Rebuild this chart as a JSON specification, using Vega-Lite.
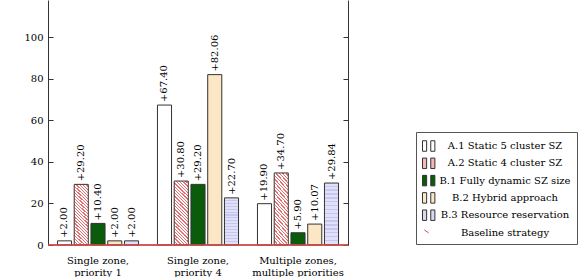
{
  "$schema": "https://vega.github.io/schema/vega-lite/v6.json",
  "width": 300,
  "height": 245,
  "padding": {"left": 0, "top": 0, "right": 5, "bottom": 0},
  "background": "white",
  "config": {
    "view": {"stroke": null},
    "font": "DejaVu Serif",
    "axis": {"labelFont": "DejaVu Serif", "labelFontSize": 10, "labelColor": "#000", "domainColor": "#333", "tickColor": "#333", "grid": false, "title": null},
    "legend": {
      "orient": "none", "legendX": 368, "legendY": 132, "title": null,
      "strokeColor": "#555", "padding": 6, "rowPadding": 1.3,
      "labelFont": "DejaVu Serif", "labelFontSize": 10, "labelColor": "#000",
      "labelAlign": "center", "labelOffset": 67, "symbolSize": 225, "symbolStrokeWidth": 1,
      "fillColor": "white"
    }
  },
  "data": {"values": [
    {"group": "Single zone, priority 1", "series": "A.1 Static 5 cluster SZ", "value": 2.00},
    {"group": "Single zone, priority 1", "series": "A.2 Static 4 cluster SZ", "value": 29.20},
    {"group": "Single zone, priority 1", "series": "B.1 Fully dynamic SZ size", "value": 10.40},
    {"group": "Single zone, priority 1", "series": "B.2 Hybrid approach", "value": 2.00},
    {"group": "Single zone, priority 1", "series": "B.3 Resource reservation", "value": 2.00},
    {"group": "Single zone, priority 4", "series": "A.1 Static 5 cluster SZ", "value": 67.40},
    {"group": "Single zone, priority 4", "series": "A.2 Static 4 cluster SZ", "value": 30.80},
    {"group": "Single zone, priority 4", "series": "B.1 Fully dynamic SZ size", "value": 29.20},
    {"group": "Single zone, priority 4", "series": "B.2 Hybrid approach", "value": 82.06},
    {"group": "Single zone, priority 4", "series": "B.3 Resource reservation", "value": 22.70},
    {"group": "Multiple zones, multiple priorities", "series": "A.1 Static 5 cluster SZ", "value": 19.90},
    {"group": "Multiple zones, multiple priorities", "series": "A.2 Static 4 cluster SZ", "value": 34.70},
    {"group": "Multiple zones, multiple priorities", "series": "B.1 Fully dynamic SZ size", "value": 5.90},
    {"group": "Multiple zones, multiple priorities", "series": "B.2 Hybrid approach", "value": 10.07},
    {"group": "Multiple zones, multiple priorities", "series": "B.3 Resource reservation", "value": 29.84},
    {"group": "Single zone, priority 1", "series": "Baseline strategy", "value": 0},
    {"group": "Single zone, priority 4", "series": "Baseline strategy", "value": 0},
    {"group": "Multiple zones, multiple priorities", "series": "Baseline strategy", "value": 0}
  ]},
  "layer": [
    {
      "transform": [{"filter": "datum.series !== 'Baseline strategy'"}],
      "layer": [
        {
          "mark": {"type": "bar", "stroke": "#333", "strokeWidth": 1},
          "encoding": {
            "x": {"field": "group", "type": "nominal", "sort": null,
                  "scale": {"paddingInner": 0, "paddingOuter": 0},
                  "axis": {"labelAngle": 0, "ticks": false, "domain": false, "labelPadding": 10, "labelBaseline": "top", "labelLineHeight": 12,
                           "labelExpr": "[slice(datum.label, 0, indexof(datum.label, ',') + 1), slice(datum.label, indexof(datum.label, ',') + 2)]"}},
            "xOffset": {"field": "series", "type": "nominal", "sort": null,
                        "scale": {"domain": ["A.1 Static 5 cluster SZ", "A.2 Static 4 cluster SZ", "B.1 Fully dynamic SZ size", "B.2 Hybrid approach", "B.3 Resource reservation"], "paddingInner": 0.16, "paddingOuter": 0.565}},
            "y": {"field": "value", "type": "quantitative",
                  "scale": {"domain": [0, 118], "nice": false},
                  "axis": {"orient": "left", "values": [0, 20, 40, 60, 80, 100], "tickSize": -5, "labelPadding": 10, "minExtent": 48, "maxExtent": 48}},
            "fill": {"field": "series", "type": "nominal",
                     "scale": {"domain": ["A.1 Static 5 cluster SZ", "A.2 Static 4 cluster SZ", "B.1 Fully dynamic SZ size", "B.2 Hybrid approach", "B.3 Resource reservation", "Baseline strategy"],
                               "range": ["#ffffff", "#f4b8b8", "#0a5c0a", "#fbe6c6", "#d9d9f6", "transparent"]},
                     "condition": [
                       {"test": "datum.series === 'A.2 Static 4 cluster SZ'",
                        "value": {"gradient": "linear", "x1": 0, "y1": 1, "x2": 0.25, "y2": -0.162, "stops": [
                          {"offset": 0, "color": "#ec6e6e"}, {"offset": 0.0167, "color": "#ec6e6e"}, {"offset": 0.0167, "color": "#ffffff"}, {"offset": 0.04167, "color": "#ffffff"},
                          {"offset": 0.04167, "color": "#ec6e6e"}, {"offset": 0.0584, "color": "#ec6e6e"}, {"offset": 0.0584, "color": "#ffffff"}, {"offset": 0.08333, "color": "#ffffff"},
                          {"offset": 0.08333, "color": "#ec6e6e"}, {"offset": 0.1, "color": "#ec6e6e"}, {"offset": 0.1, "color": "#ffffff"}, {"offset": 0.125, "color": "#ffffff"},
                          {"offset": 0.125, "color": "#ec6e6e"}, {"offset": 0.1417, "color": "#ec6e6e"}, {"offset": 0.1417, "color": "#ffffff"}, {"offset": 0.16667, "color": "#ffffff"},
                          {"offset": 0.16667, "color": "#ec6e6e"}, {"offset": 0.1834, "color": "#ec6e6e"}, {"offset": 0.1834, "color": "#ffffff"}, {"offset": 0.20833, "color": "#ffffff"},
                          {"offset": 0.20833, "color": "#ec6e6e"}, {"offset": 0.225, "color": "#ec6e6e"}, {"offset": 0.225, "color": "#ffffff"}, {"offset": 0.25, "color": "#ffffff"},
                          {"offset": 0.25, "color": "#ec6e6e"}, {"offset": 0.2667, "color": "#ec6e6e"}, {"offset": 0.2667, "color": "#ffffff"}, {"offset": 0.29167, "color": "#ffffff"},
                          {"offset": 0.29167, "color": "#ec6e6e"}, {"offset": 0.3084, "color": "#ec6e6e"}, {"offset": 0.3084, "color": "#ffffff"}, {"offset": 0.33333, "color": "#ffffff"},
                          {"offset": 0.33333, "color": "#ec6e6e"}, {"offset": 0.35, "color": "#ec6e6e"}, {"offset": 0.35, "color": "#ffffff"}, {"offset": 0.375, "color": "#ffffff"},
                          {"offset": 0.375, "color": "#ec6e6e"}, {"offset": 0.3917, "color": "#ec6e6e"}, {"offset": 0.3917, "color": "#ffffff"}, {"offset": 0.41667, "color": "#ffffff"},
                          {"offset": 0.41667, "color": "#ec6e6e"}, {"offset": 0.4334, "color": "#ec6e6e"}, {"offset": 0.4334, "color": "#ffffff"}, {"offset": 0.45833, "color": "#ffffff"},
                          {"offset": 0.45833, "color": "#ec6e6e"}, {"offset": 0.475, "color": "#ec6e6e"}, {"offset": 0.475, "color": "#ffffff"}, {"offset": 0.5, "color": "#ffffff"},
                          {"offset": 0.5, "color": "#ec6e6e"}, {"offset": 0.5167, "color": "#ec6e6e"}, {"offset": 0.5167, "color": "#ffffff"}, {"offset": 0.54167, "color": "#ffffff"},
                          {"offset": 0.54167, "color": "#ec6e6e"}, {"offset": 0.5584, "color": "#ec6e6e"}, {"offset": 0.5584, "color": "#ffffff"}, {"offset": 0.58333, "color": "#ffffff"},
                          {"offset": 0.58333, "color": "#ec6e6e"}, {"offset": 0.6, "color": "#ec6e6e"}, {"offset": 0.6, "color": "#ffffff"}, {"offset": 0.625, "color": "#ffffff"},
                          {"offset": 0.625, "color": "#ec6e6e"}, {"offset": 0.6417, "color": "#ec6e6e"}, {"offset": 0.6417, "color": "#ffffff"}, {"offset": 0.66667, "color": "#ffffff"},
                          {"offset": 0.66667, "color": "#ec6e6e"}, {"offset": 0.6834, "color": "#ec6e6e"}, {"offset": 0.6834, "color": "#ffffff"}, {"offset": 0.70833, "color": "#ffffff"},
                          {"offset": 0.70833, "color": "#ec6e6e"}, {"offset": 0.725, "color": "#ec6e6e"}, {"offset": 0.725, "color": "#ffffff"}, {"offset": 0.75, "color": "#ffffff"},
                          {"offset": 0.75, "color": "#ec6e6e"}, {"offset": 0.7667, "color": "#ec6e6e"}, {"offset": 0.7667, "color": "#ffffff"}, {"offset": 0.79167, "color": "#ffffff"},
                          {"offset": 0.79167, "color": "#ec6e6e"}, {"offset": 0.8084, "color": "#ec6e6e"}, {"offset": 0.8084, "color": "#ffffff"}, {"offset": 0.83333, "color": "#ffffff"},
                          {"offset": 0.83333, "color": "#ec6e6e"}, {"offset": 0.85, "color": "#ec6e6e"}, {"offset": 0.85, "color": "#ffffff"}, {"offset": 0.875, "color": "#ffffff"},
                          {"offset": 0.875, "color": "#ec6e6e"}, {"offset": 0.8917, "color": "#ec6e6e"}, {"offset": 0.8917, "color": "#ffffff"}, {"offset": 0.91667, "color": "#ffffff"},
                          {"offset": 0.91667, "color": "#ec6e6e"}, {"offset": 0.9334, "color": "#ec6e6e"}, {"offset": 0.9334, "color": "#ffffff"}, {"offset": 0.95833, "color": "#ffffff"},
                          {"offset": 0.95833, "color": "#ec6e6e"}, {"offset": 0.975, "color": "#ec6e6e"}, {"offset": 0.975, "color": "#ffffff"}, {"offset": 1, "color": "#ffffff"}
                        ]}},
                       {"test": "datum.series === 'B.3 Resource reservation'",
                        "value": {"gradient": "linear", "x1": 0, "y1": 0, "x2": 0, "y2": 1, "stops": [
                          {"offset": 0, "color": "#e0e0f9"}, {"offset": 0.04, "color": "#e0e0f9"}, {"offset": 0.04, "color": "#c6c6f2"}, {"offset": 0.0625, "color": "#c6c6f2"},
                          {"offset": 0.0625, "color": "#e0e0f9"}, {"offset": 0.1025, "color": "#e0e0f9"}, {"offset": 0.1025, "color": "#c6c6f2"}, {"offset": 0.125, "color": "#c6c6f2"},
                          {"offset": 0.125, "color": "#e0e0f9"}, {"offset": 0.165, "color": "#e0e0f9"}, {"offset": 0.165, "color": "#c6c6f2"}, {"offset": 0.1875, "color": "#c6c6f2"},
                          {"offset": 0.1875, "color": "#e0e0f9"}, {"offset": 0.2275, "color": "#e0e0f9"}, {"offset": 0.2275, "color": "#c6c6f2"}, {"offset": 0.25, "color": "#c6c6f2"},
                          {"offset": 0.25, "color": "#e0e0f9"}, {"offset": 0.29, "color": "#e0e0f9"}, {"offset": 0.29, "color": "#c6c6f2"}, {"offset": 0.3125, "color": "#c6c6f2"},
                          {"offset": 0.3125, "color": "#e0e0f9"}, {"offset": 0.3525, "color": "#e0e0f9"}, {"offset": 0.3525, "color": "#c6c6f2"}, {"offset": 0.375, "color": "#c6c6f2"},
                          {"offset": 0.375, "color": "#e0e0f9"}, {"offset": 0.415, "color": "#e0e0f9"}, {"offset": 0.415, "color": "#c6c6f2"}, {"offset": 0.4375, "color": "#c6c6f2"},
                          {"offset": 0.4375, "color": "#e0e0f9"}, {"offset": 0.4775, "color": "#e0e0f9"}, {"offset": 0.4775, "color": "#c6c6f2"}, {"offset": 0.5, "color": "#c6c6f2"},
                          {"offset": 0.5, "color": "#e0e0f9"}, {"offset": 0.54, "color": "#e0e0f9"}, {"offset": 0.54, "color": "#c6c6f2"}, {"offset": 0.5625, "color": "#c6c6f2"},
                          {"offset": 0.5625, "color": "#e0e0f9"}, {"offset": 0.6025, "color": "#e0e0f9"}, {"offset": 0.6025, "color": "#c6c6f2"}, {"offset": 0.625, "color": "#c6c6f2"},
                          {"offset": 0.625, "color": "#e0e0f9"}, {"offset": 0.665, "color": "#e0e0f9"}, {"offset": 0.665, "color": "#c6c6f2"}, {"offset": 0.6875, "color": "#c6c6f2"},
                          {"offset": 0.6875, "color": "#e0e0f9"}, {"offset": 0.7275, "color": "#e0e0f9"}, {"offset": 0.7275, "color": "#c6c6f2"}, {"offset": 0.75, "color": "#c6c6f2"},
                          {"offset": 0.75, "color": "#e0e0f9"}, {"offset": 0.79, "color": "#e0e0f9"}, {"offset": 0.79, "color": "#c6c6f2"}, {"offset": 0.8125, "color": "#c6c6f2"},
                          {"offset": 0.8125, "color": "#e0e0f9"}, {"offset": 0.8525, "color": "#e0e0f9"}, {"offset": 0.8525, "color": "#c6c6f2"}, {"offset": 0.875, "color": "#c6c6f2"},
                          {"offset": 0.875, "color": "#e0e0f9"}, {"offset": 0.915, "color": "#e0e0f9"}, {"offset": 0.915, "color": "#c6c6f2"}, {"offset": 0.9375, "color": "#c6c6f2"},
                          {"offset": 0.9375, "color": "#e0e0f9"}, {"offset": 0.9775, "color": "#e0e0f9"}, {"offset": 0.9775, "color": "#c6c6f2"}, {"offset": 1, "color": "#c6c6f2"}
                        ]}}
                     ],
                     "legend": {"encode": {"symbols": {"update": {"shape": {"signal": "datum.value === 'Baseline strategy' ? 'M-0.75,-0.35L-0.2,0.05' : 'M-1,-0.7H-0.45V0.7H-1Z M0.1,-0.7H0.65V0.7H0.1Z'"}}}}}}
          }
        },
        {
          "mark": {"type": "text", "angle": 270, "align": "left", "baseline": "middle", "dx": 3, "font": "DejaVu Serif", "fontSize": 10, "fill": "#000"},
          "encoding": {
            "x": {"field": "group", "type": "nominal", "sort": null},
            "xOffset": {"field": "series", "type": "nominal", "sort": null},
            "y": {"field": "value", "type": "quantitative"},
            "text": {"field": "value", "type": "quantitative", "format": "+.2f"}
          }
        }
      ]
    },
    {
      "transform": [{"filter": "datum.series === 'Baseline strategy'"}],
      "mark": {"type": "rule", "strokeWidth": 1.2},
      "encoding": {
        "y": {"field": "value", "type": "quantitative",
              "axis": {"orient": "right", "labels": false, "values": [0, 20, 40, 60, 80, 100], "tickSize": -5, "domainColor": "#333"}},
        "stroke": {"field": "series", "type": "nominal",
                   "scale": {"domain": ["A.1 Static 5 cluster SZ", "A.2 Static 4 cluster SZ", "B.1 Fully dynamic SZ size", "B.2 Hybrid approach", "B.3 Resource reservation", "Baseline strategy"],
                             "range": ["#333333", "#333333", "#333333", "#333333", "#333333", "#c84848"]},
                   "legend": {"encode": {"symbols": {"update": {"shape": {"signal": "datum.value === 'Baseline strategy' ? 'M-0.75,-0.35L-0.2,0.05' : 'M-1,-0.7H-0.45V0.7H-1Z M0.1,-0.7H0.65V0.7H0.1Z'"}}}}}}
      }
    }
  ],
  "resolve": {"axis": {"y": "independent"}}
}
